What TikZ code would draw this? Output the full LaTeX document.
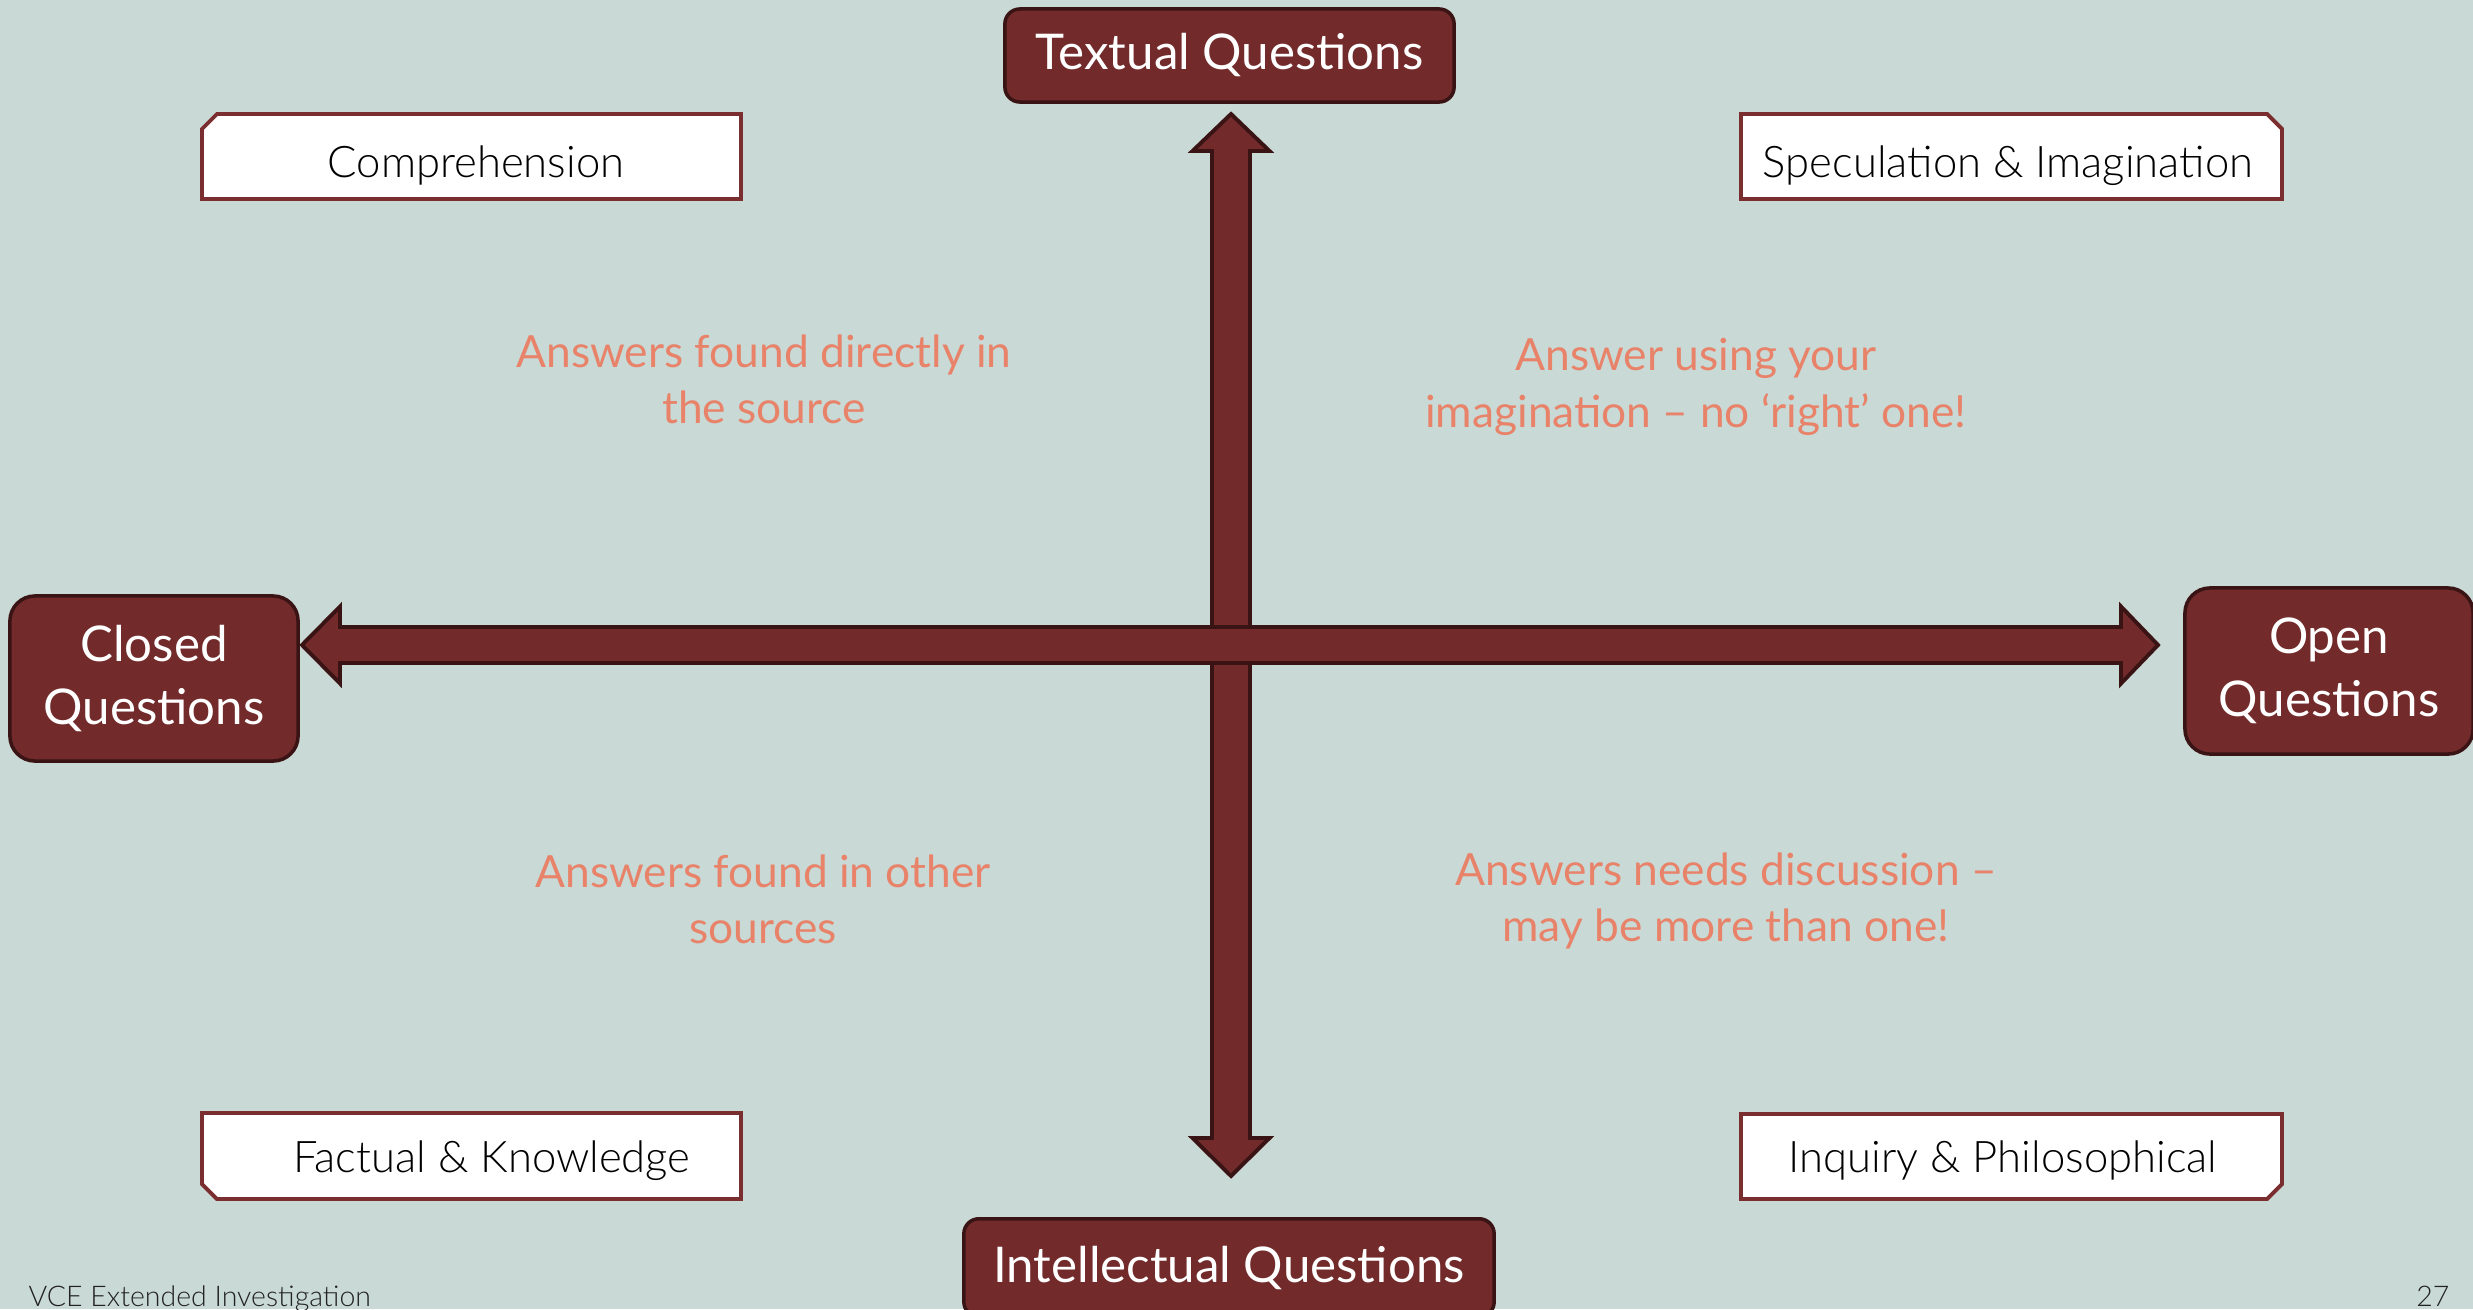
\documentclass[tikz,border=0pt]{standalone}
\usepackage{fontspec}
\setmainfont{Lato}
\newfontfamily\lightfont{Lato Light}
\usetikzlibrary{calc}
\definecolor{bg}{HTML}{C9D9D6}
\definecolor{maroon}{HTML}{722A2B}
\definecolor{edge}{HTML}{3A1414}
\definecolor{salmon}{HTML}{E8836A}
\definecolor{boxline}{HTML}{7B2E30}
\definecolor{foot}{HTML}{222222}
\begin{document}
\begin{tikzpicture}[x=0.01cm,y=-0.01cm,
  qbox/.style={draw=edge, line width=1pt, fill=maroon, rounded corners=0.25cm, text=white,
    font=\fontsize{14}{18}\selectfont, align=center, inner sep=0pt},
  cframe/.style={draw=boxline, line width=1.1pt, fill=white, line join=miter},
  ctext/.style={inner sep=0pt, anchor=base, font=\lightfont\fontsize{12.4}{15}\selectfont, text=black},
  note/.style={text=salmon, font=\fontsize{12.6}{16}\selectfont, align=center, inner sep=0pt},
  arrowshape/.style={fill=maroon, draw=edge, line width=1.1pt, line join=miter},
  footnote/.style={text=foot, font=\lightfont\fontsize{8.1}{10}\selectfont, inner sep=0pt}
]
\fill[bg] (0,0) rectangle (2473,1309);
\useasboundingbox (0,0) rectangle (2473,1309);

% vertical double arrow
\coordinate (vtop) at (1231,114);
\coordinate (vbot) at (1231,1176);
\draw[arrowshape] (vtop) -- ($(vtop)+(38.5,37)$) -- ($(vtop)+(19,37)$) -- ($(vbot)+(19,-38)$)
  -- ($(vbot)+(38.5,-38)$) -- (vbot) -- ($(vbot)+(-38.5,-38)$) -- ($(vbot)+(-19,-38)$)
  -- ($(vtop)+(-19,37)$) -- ($(vtop)+(-38.5,37)$) -- cycle;

% horizontal double arrow
\coordinate (hl) at (302,645);
\coordinate (hr) at (2158,645);
\draw[arrowshape] (hl) -- ($(hl)+(38,-38.5)$) -- ($(hl)+(38,-18)$) -- ($(hr)+(-37,-18)$)
  -- ($(hr)+(-37,-38.5)$) -- (hr) -- ($(hr)+(-37,38.5)$) -- ($(hr)+(-37,18)$)
  -- ($(hl)+(38,18)$) -- ($(hl)+(38,38.5)$) -- cycle;

% axis boxes
\node[qbox, rounded corners=0.15cm, minimum width=4.49cm, minimum height=0.93cm] (textual) at (1229.5,55.5) {Textual Questions};
\node[qbox, rounded corners=0.15cm, minimum width=5.30cm, minimum height=0.98cm, anchor=north] (intel) at (1229,1217) {Intellectual Questions};
\node[qbox, minimum width=2.88cm, minimum height=1.65cm] (closed) at (154,678.5) {Closed\\Questions};
\node[qbox, minimum width=2.88cm, minimum height=1.66cm] (open) at (2329,671) {Open\\Questions};

% quadrant boxes (snipped corner)
\coordinate (a1) at (202,114);  \coordinate (a2) at (741,199);
\coordinate (b1) at (1741,114); \coordinate (b2) at (2282,199);
\coordinate (c1) at (202,1113); \coordinate (c2) at (741,1199);
\coordinate (d1) at (1741,1114);\coordinate (d2) at (2282,1199);
\draw[cframe] ($(a1)+(15,0)$) -- (a2 |- a1) -- (a2) -- (a1 |- a2) -- ($(a1)+(0,15)$) -- cycle;
\draw[cframe] (b1) -- ($(b2 |- b1)+(-15,0)$) -- ($(b2 |- b1)+(0,15)$) -- (b2) -- (b1 |- b2) -- cycle;
\draw[cframe] (c1) -- (c2 |- c1) -- (c2) -- ($(c1 |- c2)+(15,0)$) -- ($(c1 |- c2)+(0,-15)$) -- cycle;
\draw[cframe] (d1) -- (d2 |- d1) -- ($(d2)+(0,-15)$) -- ($(d2)+(-15,0)$) -- (d1 |- d2) -- cycle;
\node[ctext] (compr) at (476,177) {Comprehension};
\node[ctext] (spec) at (2008,177) {Speculation \& Imagination};
\node[ctext] (fact) at (492,1172) {Factual \& Knowledge};
\node[ctext] (inq) at (2003,1172) {Inquiry \& Philosophical};

% notes
\node[note] (n1) at (764,379) {Answers found directly in\\the source};
\node[note] (n2) at (1696,387) {Answer using your\\imagination -- no `right' one!};
\node[note] (n3) at (763,899) {Answers found in other\\sources};
\node[note] (n4) at (1726,901) {Answers needs discussion --\\may be more than one!};

% footer
\node[footnote, anchor=base west] (f1) at (28,1306) {VCE Extended Investigation};
\node[footnote, anchor=base east] (f2) at (2450,1306) {27};
\end{tikzpicture}
\end{document}
